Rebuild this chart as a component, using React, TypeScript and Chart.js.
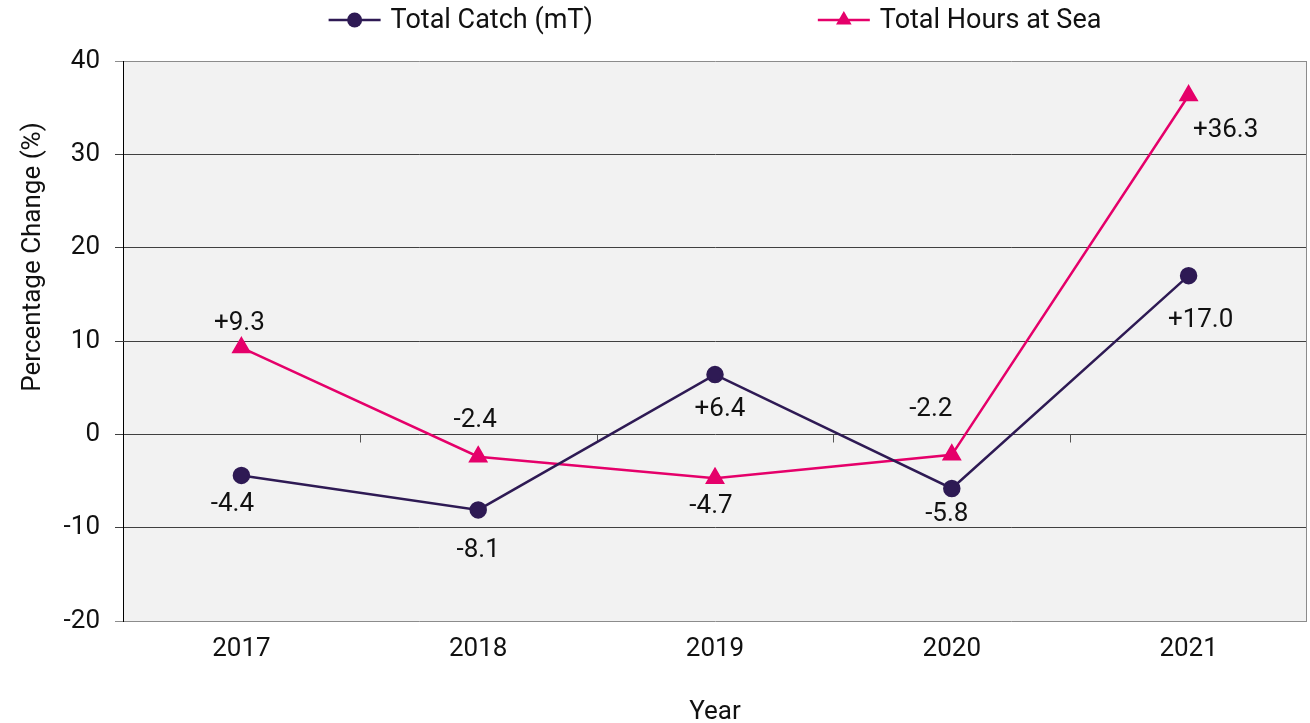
import React, { useEffect, useRef } from 'react';
import { Chart, registerables } from 'chart.js';

Chart.register(...registerables);

// ---- data ----
const years = ['2017', '2018', '2019', '2020', '2021'];
const totalCatch = [-4.4, -8.1, 6.4, -5.8, 17.0];
const totalHours = [9.3, -2.4, -4.7, -2.2, 36.3];
const seriesNames = ['Total Catch (mT)', 'Total Hours at Sea'];
const yTitle = 'Percentage Change (%)';
const xTitle = 'Year';
const yMin = -20;
const yMax = 40;
const yStep = 10;

// ---- styling ----
const CATCH_COLOR = '#2E1A54';
const HOURS_COLOR = '#E5006A';
const FONT = 'Roboto';
const TEXT = '#111111';

// label offsets (px, relative to point) per series
const labelOffsets: number[][][] = [
  [[-9, 29], [0, 41], [5, 35], [-5, 26], [12, 45]],
  [[-2, -24], [-3, -36], [-4, 28], [-21, -45], [37, 35]],
];

const fmt = (v: number) => (v > 0 ? '+' : '') + v.toFixed(1);

const decorPlugin = {
  id: 'decor',
  beforeDraw(chart: any) {
    const { ctx, chartArea } = chart;
    ctx.save();
    ctx.fillStyle = '#F2F2F2';
    ctx.fillRect(chartArea.left, chartArea.top, chartArea.right - chartArea.left, chartArea.bottom - chartArea.top);
    ctx.restore();
  },
  beforeDatasetsDraw(chart: any) {
    const { ctx, chartArea, scales } = chart;
    const xs = scales.x;
    const ys = scales.y;
    const y0 = Math.round(ys.getPixelForValue(0)) + 0.5;
    ctx.save();
    ctx.strokeStyle = '#555555';
    ctx.lineWidth = 1;
    ctx.beginPath();
    for (let i = 1; i < years.length; i++) {
      const x = Math.round((xs.getPixelForTick(i - 1) + xs.getPixelForTick(i)) / 2) + 0.5;
      ctx.moveTo(x, y0);
      ctx.lineTo(x, y0 + 8);
    }
    ctx.stroke();
    // right border
    ctx.strokeStyle = '#8C8C8C';
    ctx.beginPath();
    ctx.moveTo(Math.round(chartArea.right) - 0.5, chartArea.top);
    ctx.lineTo(Math.round(chartArea.right) - 0.5, chartArea.bottom);
    ctx.stroke();
    ctx.restore();
  },
  afterDatasetsDraw(chart: any) {
    const { ctx } = chart;
    ctx.save();
    ctx.font = `26px ${FONT}`;
    ctx.fillStyle = TEXT;
    ctx.textAlign = 'center';
    ctx.textBaseline = 'middle';
    chart.data.datasets.forEach((ds: any, di: number) => {
      const meta = chart.getDatasetMeta(di);
      meta.data.forEach((pt: any, i: number) => {
        const off = labelOffsets[di][i];
        ctx.fillText(fmt(ds.data[i]), pt.x + off[0], pt.y + off[1]);
      });
    });
    ctx.restore();
  },
  afterDraw(chart: any) {
    const { ctx, chartArea } = chart;
    ctx.save();
    // y-axis title
    ctx.save();
    ctx.font = `26px ${FONT}`;
    ctx.fillStyle = TEXT;
    ctx.textAlign = 'center';
    ctx.textBaseline = 'alphabetic';
    ctx.translate(40, chartArea.top + 196);
    ctx.rotate(-Math.PI / 2);
    ctx.fillText(yTitle, 0, 0);
    ctx.restore();

    // legend
    ctx.font = `27px ${FONT}`;
    const lineW = 52;
    const gapText = 10;
    const itemGap = 225;
    const items = chart.data.datasets.map((ds: any) => ({
      ds,
      w: lineW + gapText + ctx.measureText(ds.label).width,
    }));
    const total = items.reduce((s: number, it: any) => s + it.w, 0) + itemGap * (items.length - 1);
    let x = (chartArea.left + chartArea.right) / 2 - total / 2;
    const y = 20;
    items.forEach((it: any) => {
      const ds = it.ds;
      ctx.strokeStyle = ds.borderColor;
      ctx.lineWidth = 2.5;
      ctx.beginPath();
      ctx.moveTo(x, y);
      ctx.lineTo(x + lineW, y);
      ctx.stroke();
      const cx = x + lineW / 2;
      ctx.fillStyle = ds.borderColor;
      ctx.beginPath();
      if (ds.pointStyle === 'triangle') {
        const r = 9;
        let rad = 0;
        ctx.moveTo(cx + Math.sin(rad) * r, y - Math.cos(rad) * r);
        rad += (2 * Math.PI) / 3;
        ctx.lineTo(cx + Math.sin(rad) * r, y - Math.cos(rad) * r);
        rad += (2 * Math.PI) / 3;
        ctx.lineTo(cx + Math.sin(rad) * r, y - Math.cos(rad) * r);
        ctx.closePath();
      } else {
        ctx.arc(cx, y, 7.5, 0, Math.PI * 2);
      }
      ctx.fill();
      ctx.fillStyle = TEXT;
      ctx.textAlign = 'left';
      ctx.textBaseline = 'middle';
      ctx.fillText(ds.label, x + lineW + gapText, y + 1);
      x += it.w + itemGap;
    });
    ctx.restore();
  },
};

export default function App() {
  const ref = useRef<HTMLCanvasElement | null>(null);
  useEffect(() => {
    document.body.style.margin = '0';
    const canvas = ref.current!;
    const chart = new Chart(canvas, {
      type: 'line',
      data: {
        labels: years,
        datasets: [
          {
            label: seriesNames[0],
            data: totalCatch,
            borderColor: CATCH_COLOR,
            backgroundColor: CATCH_COLOR,
            borderWidth: 2.5,
            pointStyle: 'circle',
            pointRadius: 7.5,
            pointHoverRadius: 7.5,
            tension: 0,
          },
          {
            label: seriesNames[1],
            data: totalHours,
            borderColor: HOURS_COLOR,
            backgroundColor: HOURS_COLOR,
            borderWidth: 2.5,
            pointStyle: 'triangle',
            pointRadius: 9,
            pointHoverRadius: 9,
            tension: 0,
          },
        ],
      },
      options: {
        responsive: false,
        animation: false,
        events: [],
        layout: { autoPadding: false, padding: { top: 61, right: 3, left: 0, bottom: 0 } },
        plugins: {
          legend: { display: false },
          tooltip: { enabled: false },
        },
        scales: {
          x: {
            type: 'category',
            offset: true,
            grid: { display: false, offset: true },
            border: { display: false },
            ticks: { color: TEXT, font: { family: FONT, size: 26 }, padding: 5, maxRotation: 0 },
            title: { display: true, text: xTitle, color: TEXT, font: { family: FONT, size: 26 }, padding: { top: 0, bottom: -5 } },
            afterFit: (s: any) => {
              s.height = 102;
              s.paddingLeft = 0;
              s.paddingRight = 0;
            },
          },
          y: {
            min: yMin,
            max: yMax,
            ticks: { stepSize: yStep, color: TEXT, font: { family: FONT, size: 26 }, padding: 15 },
            grid: {
              color: (c: any) => (c.tick && (c.tick.value === yMax || c.tick.value === yMin) ? '#8C8C8C' : '#404040'),
              lineWidth: 1,
              tickLength: 8,
            },
            border: { display: true, color: '#000000', width: 1 },
            title: { display: false },
            afterFit: (s: any) => { s.width = 123; },
          },
        },
      },
      plugins: [decorPlugin],
    });
    return () => chart.destroy();
  }, []);
  return <canvas ref={ref} width={1310} height={723} style={{ display: 'block', width: 1310, height: 723 }} />;
}
